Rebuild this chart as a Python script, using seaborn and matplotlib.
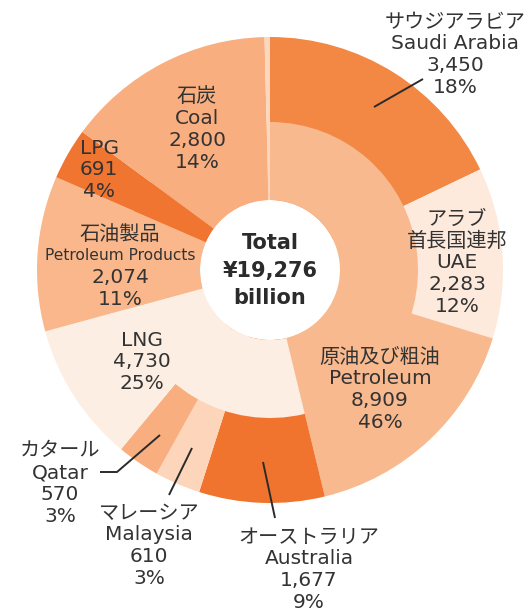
import numpy as np
import seaborn as sns
import matplotlib.pyplot as plt

sns.set_theme(style="white")
plt.rcParams['font.family'] = ['DejaVu Sans', 'Noto Sans CJK JP']

# 内側: 品目別 (単位: 十億円)
total = 19276
items = ['原油及び粗油|Petroleum', 'LNG', '石油製品|Petroleum Products', 'LPG', '石炭|Coal']
item_vals = [8909, 4730, 2074, 691, 2800]
item_pcts = ['46%', '25%', '11%', '4%', '14%']
others = total - sum(item_vals)

# 外側: 主な輸入先
src_names = ['サウジアラビア|Saudi Arabia', 'アラブ|首長国連邦|UAE', 'オーストラリア|Australia', 'マレーシア|Malaysia', 'カタール|Qatar']
src_vals = [3450, 2283, 1677, 610, 570]
src_pcts = ['18%', '12%', '9%', '3%', '3%']

c_pet, c_lng, c_prod, c_lpg, c_coal, c_oth = '#F8B98E', '#FDEEE3', '#F9B78B', '#F07531', '#F8AE7E', '#FCD7BE'
c_sau, c_uae, c_aus, c_mal, c_qat = '#F38744', '#FDEADD', '#F0742E', '#FDD5BA', '#F8AE7F'

outer_vals = [src_vals[0], src_vals[1], item_vals[0] - src_vals[0] - src_vals[1],
              src_vals[2], src_vals[3], src_vals[4], item_vals[1] - sum(src_vals[2:]),
              item_vals[2], item_vals[3], item_vals[4], others]
outer_cols = [c_sau, c_uae, c_pet, c_aus, c_mal, c_qat, c_lng, c_prod, c_lpg, c_coal, c_oth]
inner_vals = item_vals + [others]
inner_cols = [c_pet, c_lng, c_prod, c_lpg, c_coal, c_oth]

fig = plt.figure(figsize=(5.24, 6.11), dpi=100)
ax = fig.add_axes([0, 0, 1, 1])
cx, cy, R, r_mid, r_hole = 270, 270, 233, 148, 70
ax.pie(outer_vals, colors=outer_cols, radius=R, center=(cx, cy), startangle=-90,
       counterclock=True, wedgeprops=dict(width=R - r_hole, linewidth=0))
ax.pie(inner_vals, colors=inner_cols, radius=r_mid, center=(cx, cy), startangle=-90,
       counterclock=True, wedgeprops=dict(width=r_mid - r_hole, linewidth=0))
ax.set_xlim(0, 524)
ax.set_ylim(611, 0)
ax.set_aspect('equal')
ax.axis('off')

txt = '#333333'
fs = 14.5
pitch = 21.8


def label(x, y, name, val, pct, small=None):
    lines = name.split('|') + [f'{val:,}', pct]
    for i, s in enumerate(lines):
        ax.text(x, y + i * pitch, s, ha='center', va='center', color=txt,
                fontsize=small if (small and s == 'Petroleum Products') else fs)


label(380, 357, items[0], item_vals[0], item_pcts[0])
label(142, 340, items[1], item_vals[1], item_pcts[1])
label(120, 234, items[2], item_vals[2], item_pcts[2], small=11.2)
label(99, 148, items[3], item_vals[3], item_pcts[3])
label(197, 97, items[4], item_vals[4], item_pcts[4])

label(455, 22, src_names[0], src_vals[0], src_pcts[0])
label(457, 219, src_names[1], src_vals[1], src_pcts[1])
label(309, 537, src_names[2], src_vals[2], src_pcts[2])
label(149, 513, src_names[3], src_vals[3], src_pcts[3])
label(60, 451, src_names[4], src_vals[4], src_pcts[4])

# 引き出し線
lk = dict(color='#2b2b2b', lw=1.4, solid_capstyle='butt')
ax.plot([374, 423], [107, 79], **lk)
ax.plot([160, 117, 100], [435, 472, 472], **lk)
ax.plot([192, 169], [448, 495], **lk)
ax.plot([263, 275], [462, 518], **lk)

for i, s in enumerate(['Total', f'¥{total:,}', 'billion']):
    ax.text(cx, 243 + i * 27.5, s, ha='center', va='center', color='#2b2b2b',
            fontsize=15, fontweight='bold')

fig.savefig('out.png', dpi=100)
